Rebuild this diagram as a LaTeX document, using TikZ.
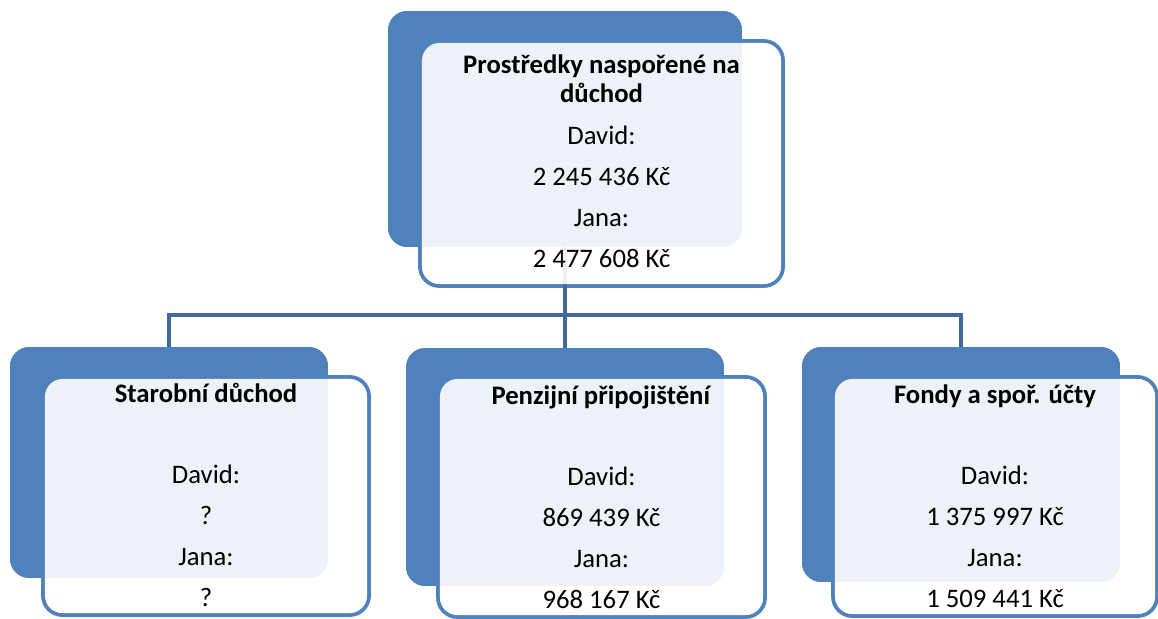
\documentclass[tikz,border=0pt]{standalone}
\usepackage{fontspec}
\setmainfont{Carlito}
\definecolor{boxblue}{HTML}{4F81BD}
\definecolor{linkblue}{HTML}{41699B}

\begin{document}
\begin{tikzpicture}[x=0.02cm, y=-0.02cm,
  back/.style 2 args={fill=boxblue, rounded corners=11pt, inner sep=0pt,
    minimum width=#1cm, minimum height=#2cm},
  front/.style 2 args={draw=boxblue, line width=2.2pt, fill=white, rounded corners=11pt,
    inner sep=0pt, minimum width=#1cm, minimum height=#2cm},
  veil/.style 2 args={fill=white, fill opacity=0.9, rounded corners=10pt, inner sep=0pt,
    minimum width=#1cm-2.2pt, minimum height=#2cm-2.2pt},
  link/.style={draw=linkblue, line width=2.8pt},
  info/.style={align=center, inner sep=0pt, anchor=base,
    font=\fontsize{15.2}{23.2}\selectfont}
]
\useasboundingbox (0,0) rectangle (1158,618);

% front frames (white, blue border)
\node[front={7.26}{4.9}] (topfront) at (601.5,163.5) {};
\node[front={6.52}{4.76}] (leftfront) at (206,496) {};
\node[front={6.54}{4.8}] (midfront) at (601.5,497) {};
\node[front={6.48}{4.78}] (rightfront) at (995,496.5) {};

% back boxes
\node[back={7.08}{4.72}] (topback) at (565,129) {};
\node[back={6.36}{4.62}] (leftback) at (169,462.5) {};
\node[back={6.36}{4.76}] (midback) at (565,467) {};
\node[back={6.36}{4.7}] (rightback) at (961,464.5) {};

% connectors
\coordinate (bus) at (565,315);
\draw[link] (topback.south) -- (bus);
\draw[link] (leftback.north) |- (bus) -| (rightback.north);
\draw[link] (bus) -- (midback.north);

% redraw back boxes over the connector ends
\node[back={7.08}{4.72}] at (topback) {};
\node[back={6.36}{4.62}] at (leftback) {};
\node[back={6.36}{4.76}] at (midback) {};
\node[back={6.36}{4.7}] at (rightback) {};

% light veil of the front frames
\node[veil={7.26}{4.9}] at (topfront) {};
\node[veil={6.52}{4.76}] at (leftfront) {};
\node[veil={6.54}{4.8}] at (midfront) {};
\node[veil={6.48}{4.78}] at (rightfront) {};

% texts (anchored at the baseline of the last line)
\node[info] (toptext) at (601.5,267) {\textbf{Prostředky naspořené na}\\[-7pt]\textbf{důchod}\\[1pt]David:\\2 245 436 Kč\\Jana:\\2 477 608 Kč};
\node[info] (lefttext) at (206,606) {\textbf{Starobní důchod}\\[23pt]David:\\?\\Jana:\\?};
\node[info] (midtext) at (601.5,608) {\textbf{Penzijní připojištění}\\[23pt]David:\\869 439 Kč\\Jana:\\968 167 Kč};
\node[info] (righttext) at (995,607) {\textbf{Fondy a spoř. účty}\\[23pt]David:\\1 375 997 Kč\\Jana:\\1 509 441 Kč};
\end{tikzpicture}
\end{document}
